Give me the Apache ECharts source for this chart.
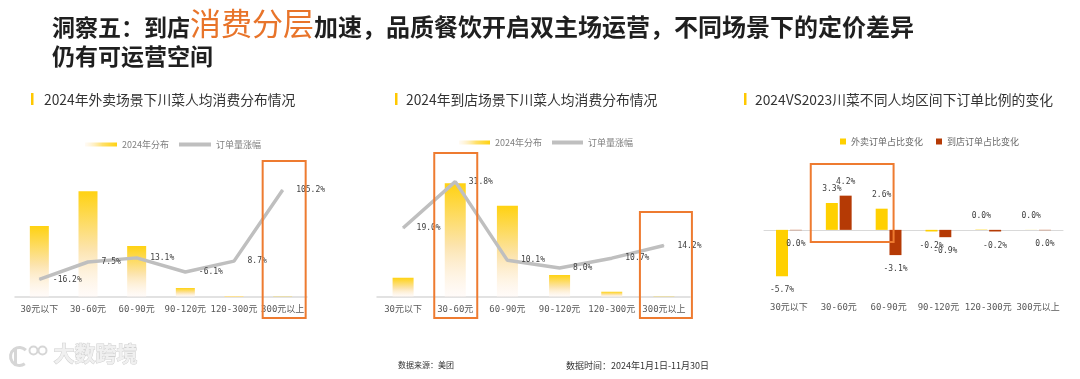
<!DOCTYPE html>
<html>
<head>
<meta charset="utf-8">
<script src="https://cdn.jsdelivr.net/npm/echarts@6/dist/echarts.min.js"></script>
<style>
html,body{margin:0;padding:0;background:#fff;}
#c{width:1080px;height:379px;}
</style>
</head>
<body>
<div id="c"></div>
<script>
// ---- data ----
const categories = ['30元以下', '30-60元', '60-90元', '90-120元', '120-300元', '300元以上'];
const takeoutShare = [30.4, 45.3, 21.9, 3.9, 0.4, 0.1];      // 2024年分布 (外卖)
const takeoutGrowth = [-16.2, 7.5, 13.1, -6.1, 8.7, 105.2];   // 订单量涨幅 (外卖)
const dineShare = [7.6, 44.8, 35.9, 8.7, 2.1, 0.1];          // 2024年分布 (到店)
const dineGrowth = [19.0, 31.8, 10.1, 8.0, 10.7, 14.2];      // 订单量涨幅 (到店)
const takeoutChange = [-5.7, 3.3, 2.6, -0.2, 0.04, 0.01];    // 外卖订单占比变化
const dineChange = [-0.04, 4.2, -3.1, -0.9, -0.2, -0.04];    // 到店订单占比变化

const chartTitles = ['2024年外卖场景下川菜人均消费分布情况', '2024年到店场景下川菜人均消费分布情况', '2024VS2023川菜不同人均区间下订单比例的变化'];
const legendShare = '2024年分布', legendGrowth = '订单量涨幅';
const legendTakeout = '外卖订单占比变化', legendDine = '到店订单占比变化';

// ---- styles ----
const MONO = "'DejaVu Sans Mono', 'Noto Sans CJK SC', monospace";
const CJK = "'Noto Sans CJK SC', 'Noto Sans', sans-serif";
const YELLOW = '#FFD000', DARKRED = '#B53A05', ORANGE = '#EE7B30', GREY = '#BFBFBF';
const vGrad = () => new echarts.graphic.LinearGradient(0, 0, 0, 1, [
  {offset: 0, color: '#FFD211'}, {offset: 0.55, color: '#FCE4AE'}, {offset: 1, color: 'rgba(255,245,240,0.4)'}]);
const hGrad = () => new echarts.graphic.LinearGradient(0, 0, 1, 0, [
  {offset: 0, color: 'rgba(255,240,220,0.3)'}, {offset: 0.55, color: '#FFE06A'}, {offset: 1, color: '#FFD211'}]);
const fmt = v => (Math.round(v * 10) / 10).toFixed(1) + '%';

const catAxis = (gi, extra) => Object.assign({
  type: 'category', gridIndex: gi, data: categories,
  axisTick: {show: false},
  axisLine: {lineStyle: {color: '#D9D9D9', width: 1.5}},
  axisLabel: {fontFamily: MONO, fontSize: 9, color: '#595959', margin: 8, interval: 0}
}, extra || {});
const valAxis = (gi, min, max) => ({type: 'value', gridIndex: gi, min, max, show: false, splitLine: {show: false}});

const lineLabel = {show: true, position: 'right', distance: 13, fontFamily: MONO, fontSize: 8, color: '#404040', formatter: p => fmt(p.value)};
const barLabel = {show: true, distance: 10, fontFamily: MONO, fontSize: 8, color: '#404040', formatter: p => fmt(p.value)};
const signed = arr => arr.map(v => ({value: v, label: {position: v >= 0 ? 'top' : 'bottom'}}));

const subTitle = (text, left) => ({
  text, left, top: 91, padding: 0,
  textStyle: {fontFamily: CJK, fontSize: 13.8, fontWeight: 'normal', color: '#333', lineHeight: 17}
});

const option = {
  animation: false,
  backgroundColor: '#fff',
  title: [
    {
      text: '{a|洞察五：到店}{b|消费分层}{c|加速，品质餐饮开启双主场运营，不同场景下的定价差异}',
      left: 52, top: 7, padding: 0,
      textStyle: {rich: {
        a: {fontFamily: CJK, fontSize: 23, fontWeight: 'bold', color: '#1f1f1f', verticalAlign: 'bottom', lineHeight: 32},
        b: {fontFamily: CJK, fontSize: 31, fontWeight: 'normal', color: '#E8742A', verticalAlign: 'bottom', lineHeight: 32},
        c: {fontFamily: CJK, fontSize: 24, fontWeight: 'bold', color: '#1f1f1f', verticalAlign: 'bottom', lineHeight: 32}
      }}
    },
    {
      text: '仍有可运营空间', left: 52, top: 42, padding: 0,
      textStyle: {fontFamily: CJK, fontSize: 23, fontWeight: 'bold', color: '#1f1f1f', lineHeight: 28}
    },
    subTitle(chartTitles[0], 44),
    subTitle(chartTitles[1], 406),
    subTitle(chartTitles[2], 755)
  ],
  legend: [
    {left: 80, top: 135, itemWidth: 32, itemHeight: 4, itemGap: 10,
     textStyle: {fontFamily: CJK, fontSize: 9, color: '#7f7f7f'},
     data: [{name: legendShare, icon: 'rect', itemStyle: {color: hGrad()}}, {name: legendGrowth, icon: 'rect', itemStyle: {color: GREY}}]},
    {left: 454, top: 133, itemWidth: 31, itemHeight: 4, itemGap: 10,
     textStyle: {fontFamily: CJK, fontSize: 9, color: '#7f7f7f'},
     data: [{name: legendShare, icon: 'rect', itemStyle: {color: hGrad()}}, {name: legendGrowth, icon: 'rect', itemStyle: {color: GREY}}]},
    {left: 835, top: 132, itemWidth: 6, itemHeight: 6, itemGap: 13, icon: 'rect',
     textStyle: {fontFamily: CJK, fontSize: 9, color: '#666'},
     data: [legendTakeout, legendDine]}
  ],
  grid: [
    {left: 15, top: 157, width: 292, height: 140},
    {left: 377, top: 170, width: 313, height: 127},
    {left: 764, top: 181, width: 299, height: 114}
  ],
  xAxis: [
    catAxis(0),
    catAxis(1),
    catAxis(2, {axisLine: {show: false, onZero: false}}),
    catAxis(2, {position: 'bottom', axisLabel: {show: false}, axisLine: {show: true, onZero: true, lineStyle: {color: '#D9D9D9', width: 1}}})
  ],
  yAxis: [
    valAxis(0, 0, 60),
    valAxis(0, -40, 150),
    valAxis(1, 0, 50),
    valAxis(1, 0, 35),
    valAxis(2, -8, 6)
  ],
  series: [
    {name: legendShare, type: 'bar', xAxisIndex: 0, yAxisIndex: 0, barWidth: 19, data: takeoutShare, itemStyle: {color: vGrad()}},
    {name: legendGrowth, type: 'line', xAxisIndex: 0, yAxisIndex: 1, data: takeoutGrowth,
     symbol: 'circle', symbolSize: 1, showSymbol: true, color: GREY, itemStyle: {color: GREY},
     lineStyle: {color: GREY, width: 3.5}, label: lineLabel, z: 3},
    {name: legendShare, type: 'bar', xAxisIndex: 1, yAxisIndex: 2, barWidth: 21, data: dineShare, itemStyle: {color: vGrad()}},
    {name: legendGrowth, type: 'line', xAxisIndex: 1, yAxisIndex: 3, data: dineGrowth,
     symbol: 'circle', symbolSize: 1, showSymbol: true, color: GREY, itemStyle: {color: GREY},
     lineStyle: {color: GREY, width: 3.5}, label: lineLabel, z: 3},
    {name: legendTakeout, type: 'bar', xAxisIndex: 2, yAxisIndex: 4, barWidth: 12, barGap: '15%', color: YELLOW,
     data: signed(takeoutChange), label: barLabel},
    {name: legendDine, type: 'bar', xAxisIndex: 2, yAxisIndex: 4, barWidth: 12, barGap: '15%', color: DARKRED,
     data: signed(dineChange), label: barLabel}
  ]
};

const chart = echarts.init(document.getElementById('c'), null, {renderer: 'canvas'});
chart.setOption(option);

// annotations positioned from the axes
const cx = (xi, cat) => chart.convertToPixel({xAxisIndex: xi}, cat);
const box = (x, y, w, h) => ({type: 'rect', z: 100, shape: {x, y, width: w, height: h},
  style: {fill: 'none', stroke: ORANGE, lineWidth: 2}});
const bar = (x) => ({type: 'rect', shape: {x, y: 93, width: 2.5, height: 12}, style: {fill: '#FFC800'}});
const c1 = cx(0, categories[5]);
const c2a = cx(1, categories[1]);
const c2b = cx(1, categories[5]);
const c3a = cx(2, categories[1]);
const c3b = cx(2, categories[2]);

chart.setOption({
  graphic: [
    bar(31), bar(395), bar(744),
    box(c1 - 20, 161, 43, 157),
    box(c2a - 21, 153, 43, 165),
    box(c2b - 24, 212, 52, 106),
    box(c3a - 28, 164, (c3b + 5) - (c3a - 28), 78),
    {type: 'text', left: 398, top: 361, style: {text: '数据来源：美团', font: "8px 'Noto Sans CJK SC'", fill: '#333'}},
    {type: 'text', left: 566, top: 361, style: {text: '数据时间：2024年1月1日-11月30日', font: "9px 'Noto Sans CJK SC'", fill: '#333'}},
    // logo
    {type: 'group', left: 8, top: 344, children: [
      {type: 'arc', shape: {cx: 10, cy: 12, r: 9, startAngle: Math.PI * 0.3, endAngle: Math.PI * 1.75}, style: {stroke: '#d6d6d6', lineWidth: 3, fill: 'none'}},
      {type: 'line', shape: {x1: 6, y1: 4, x2: 6, y2: 20}, style: {stroke: '#d6d6d6', lineWidth: 3}},
      {type: 'circle', shape: {cx: 24, cy: 6, r: 4}, style: {stroke: '#d6d6d6', lineWidth: 2, fill: 'none'}},
      {type: 'circle', shape: {cx: 33, cy: 6, r: 4}, style: {stroke: '#d6d6d6', lineWidth: 2, fill: 'none'}}
    ]},
    {type: 'text', left: 53, top: 342, style: {text: '大数跨境', font: "bold 21px 'Noto Sans CJK SC'", fill: '#f0f0f0', stroke: '#d0d0d0', lineWidth: 1}}
  ]
});
</script>
</body>
</html>
